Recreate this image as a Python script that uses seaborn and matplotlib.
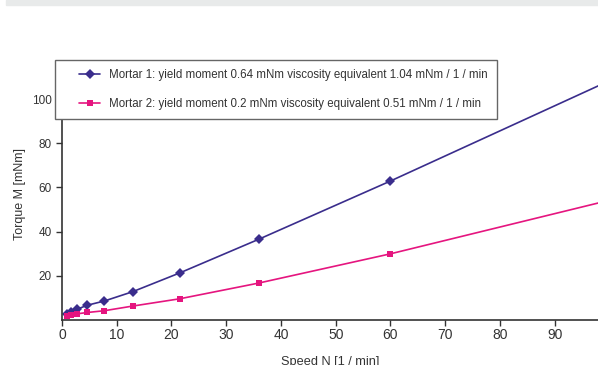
import numpy as np
import matplotlib
matplotlib.use("Agg")
import matplotlib.pyplot as plt
from matplotlib.patches import Rectangle
from matplotlib.legend_handler import HandlerLine2D
import seaborn as sns

# Speed N [1/min] measurement points (last value = extension of the fitted line, no marker)
speed = [1.0, 1.67, 2.78, 4.64, 7.74, 12.9, 21.5, 35.9, 59.9, 100.0]
torque_mortar1 = [2.6, 3.6, 4.9, 6.7, 8.6, 12.8, 21.3, 36.5, 62.8, 108.3]
torque_mortar2 = [1.6, 2.2, 2.8, 3.4, 4.2, 6.3, 9.6, 16.7, 29.9, 54.2]
n_measured = 9

label1 = "Mortar 1: yield moment 0.64 mNm viscosity equivalent 1.04 mNm / 1 / min"
label2 = "Mortar 2: yield moment 0.2 mNm viscosity equivalent 0.51 mNm / 1 / min"
x_ticks = [0, 10, 20, 30, 40, 50, 60, 70, 80, 90]
y_ticks = [20, 40, 60, 80, 100]

col1 = "#3a2d8c"
col2 = "#e5157f"
txt = "#333333"

sns.set_style("ticks")
plt.rcParams["font.family"] = ["Liberation Sans", "DejaVu Sans"]

fig = plt.figure(figsize=(5.98, 3.65), dpi=100)
fig.patches.append(Rectangle((6 / 598, 1 - 5 / 365), 1, 5 / 365,
                             transform=fig.transFigure, color="#e8eaea", zorder=0))
ax = fig.add_axes([62 / 598, 45 / 365, 1 - 62 / 598, 251 / 365])

sns.lineplot(x=speed, y=torque_mortar1, ax=ax, color=col1, lw=1.2,
             marker="D", markersize=5, markeredgewidth=0,
             markevery=list(range(n_measured)), label=label1)
sns.lineplot(x=speed, y=torque_mortar2, ax=ax, color=col2, lw=1.2,
             marker="s", markersize=5, markeredgewidth=0,
             markevery=list(range(n_measured)), label=label2)

ax.set_xlim(0, 97.9)
ax.set_ylim(0, 113.6)
ax.set_xticks(x_ticks)
ax.set_yticks(y_ticks)
ax.tick_params(axis="both", colors=txt, length=4, width=1)
ax.tick_params(axis="x", labelsize=10, pad=2)
ax.tick_params(axis="y", labelsize=8.5)
for s in ["top", "right"]:
    ax.spines[s].set_visible(False)
for s in ["left", "bottom"]:
    ax.spines[s].set_color("#333333")
    ax.spines[s].set_linewidth(1.2)

ax.set_xlabel("Speed N [1 / min]", fontsize=9.2, color=txt, labelpad=10)
ax.set_ylabel("Torque M [mNm]", fontsize=9, color=txt, labelpad=4)

fs = 8.3
hmap = {h: HandlerLine2D(xpad=1.3) for h in ax.get_lines()[:2]}
leg = ax.legend(loc="upper left", bbox_to_anchor=(-0.013, 1.036), borderaxespad=0,
                fontsize=fs, frameon=True, fancybox=False, handlelength=3.1,
                handletextpad=0.8, borderpad=0.8, labelspacing=1.45,
                labelcolor=txt, handler_map=hmap)
leg.get_frame().set_edgecolor("#666666")
leg.get_frame().set_linewidth(1.0)
leg.get_frame().set_alpha(1)

fig.savefig("out.png", dpi=100)
